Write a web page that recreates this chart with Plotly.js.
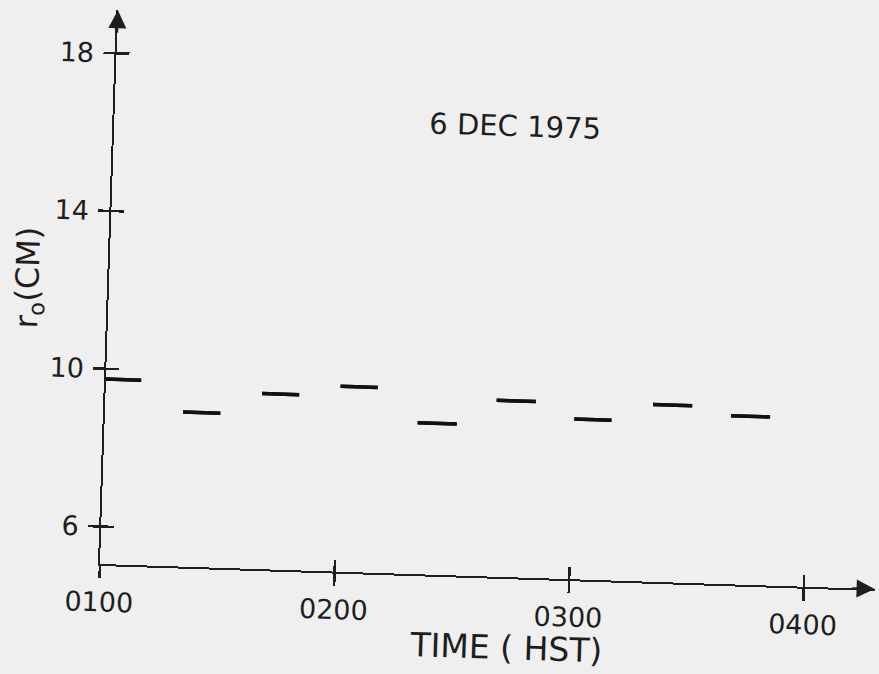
<!DOCTYPE html>
<html>
<head>
<meta charset="utf-8">
<script src="https://cdn.plot.ly/plotly-3.0.1.min.js"></script>
<style>
  html, body { margin:0; padding:0; background:#efefef; overflow:hidden; width:879px; height:674px; }
  #chart { width:879px; height:674px; transform: rotate(1.85deg); transform-origin: 100px 564px; }
</style>
</head>
<body>
<div id="chart"></div>
<script>
// Data: r0 (cm) averaged over ~10-minute intervals, 6 Dec 1975
const startMin = [0, 20, 40, 60, 80, 100, 120, 140, 160];      // minutes after 0100 HST
const endMin   = [9, 29.5, 49.5, 69.5, 90, 110, 129.5, 150, 170];
const r0cm     = [9.74, 8.97, 9.50, 9.75, 8.89, 9.52, 9.11, 9.54, 9.32];

const xTickVals = [1, 2, 3, 4];
const xTickText = ['0100', '0200', '0300', '0400'];
const yTickVals = [6, 10, 14, 18];
const yTickText = ['6', '10', '14', '18'];

const chartTitle = '6 DEC 1975';
const xTitle = 'TIME ( HST)';
const yTitle = 'r<sub>o</sub>(CM)';

// build segment trace
const xs = [], ys = [];
for (let i = 0; i < r0cm.length; i++) {
  xs.push(1 + startMin[i] / 60, 1 + endMin[i] / 60, null);
  ys.push(r0cm[i], r0cm[i], null);
}

const ink = '#1e1e1e';
const font = 'DejaVu Sans, sans-serif';
const xRange = [1, 4.302];
const yRange = [5.05, 19.09];

const segLine = { color: '#111', width: 3.5 };
const traces = [
  { type: 'scatter', mode: 'lines', x: xs, y: ys, line: segLine,
    connectgaps: false, hoverinfo: 'skip', showlegend: false },
  // same segments on the overlay axes (which carry the inner half of the cross ticks)
  { type: 'scatter', mode: 'lines', x: xs, y: ys, line: segLine,
    xaxis: 'x2', yaxis: 'y2', connectgaps: false, hoverinfo: 'skip', showlegend: false }
];

const layout = {
  width: 879, height: 674,
  margin: { l: 100, r: 4, t: 10, b: 110 },
  paper_bgcolor: '#efefef', plot_bgcolor: '#efefef',
  showlegend: false,
  xaxis: {
    range: xRange, tickvals: xTickVals, ticktext: xTickText,
    ticks: 'outside', ticklen: 12, tickwidth: 2.5, tickcolor: ink,
    showline: true, linecolor: ink, linewidth: 2,
    showgrid: false, zeroline: false,
    tickfont: { family: font, size: 27, color: ink },
    ticklabelstandoff: 1
  },
  xaxis2: {
    overlaying: 'x', anchor: 'y2', range: xRange, tickvals: xTickVals,
    ticks: 'inside', ticklen: 12, tickwidth: 2.5, tickcolor: ink,
    showticklabels: false, showline: false, showgrid: false, zeroline: false
  },
  yaxis: {
    range: yRange, tickvals: yTickVals, ticktext: yTickText,
    ticks: 'outside', ticklen: 11, tickwidth: 2.5, tickcolor: ink,
    showline: true, linecolor: ink, linewidth: 2,
    showgrid: false, zeroline: false,
    tickfont: { family: font, size: 27, color: ink },
    ticklabelstandoff: 4
  },
  yaxis2: {
    overlaying: 'y', anchor: 'x2', range: yRange, tickvals: yTickVals,
    ticks: 'inside', ticklen: 13, tickwidth: 2.5, tickcolor: ink,
    showticklabels: false, showline: false, showgrid: false, zeroline: false
  },
  annotations: [
    { text: chartTitle, xref: 'paper', yref: 'paper', x: 0.517, y: 0.814,
      xanchor: 'center', yanchor: 'middle', showarrow: false,
      font: { family: font, size: 29, color: ink } },
    { text: xTitle, xref: 'paper', yref: 'paper', x: 0.527, y: -0.127,
      xanchor: 'center', yanchor: 'middle', showarrow: false,
      font: { family: font, size: 33, color: ink } },
    { text: yTitle, xref: 'paper', yref: 'paper', x: -0.103, y: 0.513,
      xanchor: 'center', yanchor: 'middle', showarrow: false, textangle: -90,
      font: { family: font, size: 32, color: ink } },
    { text: '', xref: 'paper', yref: 'paper', x: 0, y: 1, ax: 0, ay: 24,
      showarrow: true, arrowhead: 2, arrowsize: 1.8, arrowwidth: 2, arrowcolor: ink },
    { text: '', xref: 'paper', yref: 'paper', x: 1, y: 0, ax: -24, ay: 0,
      showarrow: true, arrowhead: 2, arrowsize: 1.8, arrowwidth: 2, arrowcolor: ink }
  ]
};

Plotly.newPlot('chart', traces, layout, { displayModeBar: false, staticPlot: true });
</script>
</body>
</html>
